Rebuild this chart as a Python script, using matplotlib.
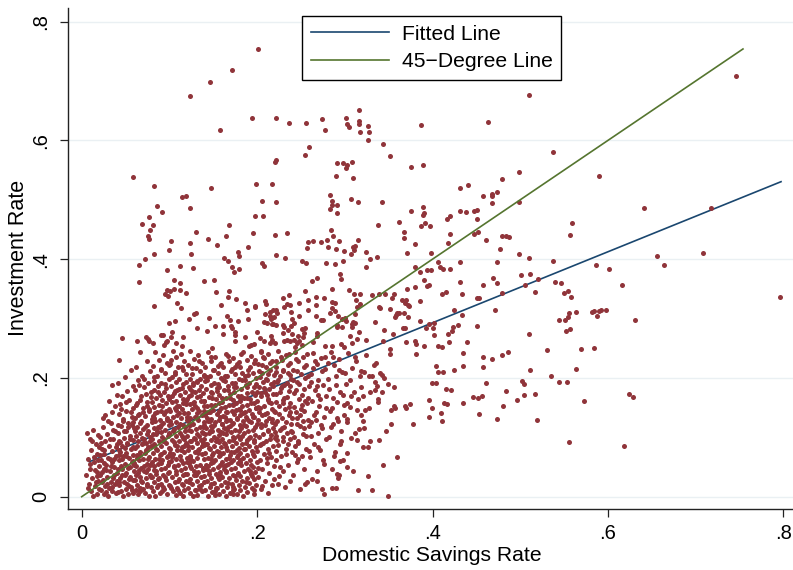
import matplotlib
matplotlib.use("Agg")
import matplotlib.pyplot as plt

plt.rcParams['font.family'] = ['Liberation Sans', 'DejaVu Sans']

## valeurs : (taux d'epargne, taux d'investissement)

# points isoles en haut (invest > .53)
top_pts = [(0.2007,0.7545),(0.1717,0.719),(0.146,0.699),(0.124,0.675),(0.1945,0.638),(0.1577,0.6176),(0.058,0.538),
    (0.2215,0.638),(0.2364,0.629),(0.2554,0.629),(0.274,0.6356),(0.277,0.617),(0.301,0.638),(0.302,0.627),(0.305,0.6226),
    (0.3166,0.651),(0.3166,0.632),(0.3166,0.628),(0.327,0.624),(0.3276,0.615),(0.317,0.614),(0.3268,0.6008),(0.344,0.5935),
    (0.352,0.573),(0.3866,0.6255),(0.463,0.6305),(0.5097,0.6765),(0.2588,0.589),(0.2546,0.576),(0.2212,0.567),(0.2207,0.5637),
    (0.2907,0.5615),(0.298,0.562),(0.302,0.5587),(0.3014,0.554),(0.308,0.5637),(0.2903,0.5396),(0.3097,0.5373),(0.3758,0.5558),
    (0.3895,0.559),(0.4983,0.5474),(0.479,0.5345),(0.7457,0.7085),(0.5374,0.5805),(0.590,0.540)]

# bande du milieu, cote gauche (epargne < .2)
midleft_pts = [(0.0828,0.523),(0.1474,0.520),(0.1144,0.504),(0.1186,0.507),(0.1988,0.526),(0.0859,0.490),(0.0912,0.4795),
    (0.1231,0.4857),(0.0771,0.471),(0.0688,0.4588),(0.081,0.4576),(0.0782,0.449),(0.076,0.4386),(0.0764,0.4345),(0.1018,0.4307),
    (0.1303,0.4463),(0.144,0.434),(0.154,0.424),(0.168,0.458),(0.1645,0.439),(0.1973,0.4733),(0.1896,0.420),(0.1238,0.4273),
    (0.125,0.4088),(0.0992,0.4155),(0.0828,0.4088),(0.0718,0.401),(0.065,0.3897),(0.065,0.361),(0.0969,0.3818),(0.112,0.389),
    (0.1273,0.3857),(0.162,0.4026),(0.167,0.3975),(0.178,0.4127),(0.179,0.405),(0.1717,0.387),(0.1737,0.3785),(0.179,0.383),
    (0.105,0.3655),(0.1125,0.3605),(0.140,0.3628),(0.151,0.3645),(0.097,0.3481),(0.1003,0.347),(0.0946,0.342),(0.098,0.338),
    (0.1052,0.349),(0.112,0.3486),(0.1193,0.3436),(0.1528,0.3447),(0.1676,0.346),(0.167,0.337),(0.1756,0.3325),(0.1866,0.3268),
    (0.1976,0.320),(0.1083,0.326),(0.1132,0.3183),(0.0828,0.321),(0.1585,0.3228),(0.1885,0.314),(0.128,0.3077),(0.1303,0.31),
    (0.122,0.300),(0.1448,0.301),(0.1657,0.3048),(0.1694,0.297),(0.190,0.299),(0.178,0.2965),(0.0992,0.293),(0.1067,0.2965),
    (0.1523,0.2875),(0.1608,0.2875),(0.131,0.284),(0.1706,0.2875),(0.1714,0.2836),(0.1432,0.2796),(0.161,0.274),(0.1745,0.277),
    (0.175,0.272),(0.2002,0.277),(0.046,0.2678),(0.0627,0.2617),(0.0733,0.2695),(0.0764,0.2617),(0.0752,0.265),(0.081,0.259),
    (0.0904,0.2728),(0.093,0.2728),(0.1033,0.277),(0.0958,0.2605),(0.0973,0.2617),(0.0942,0.256),(0.1018,0.2695),(0.1155,0.2695),
    (0.1072,0.2584),(0.1144,0.2543),(0.1748,0.2622),(0.1862,0.2695),(0.191,0.2543),(0.1927,0.256),(0.196,0.257),(0.149,0.251)]

# bande du milieu, centre
midcenter_pts = [(0.2174,0.5267),(0.206,0.4985),(0.2212,0.497),(0.2835,0.508),(0.2858,0.4985),(0.2854,0.4918),(0.2835,0.485),
    (0.2907,0.4918),(0.291,0.4773),(0.3067,0.5009),(0.315,0.4963),(0.342,0.497),(0.2064,0.4723),(0.195,0.4436),(0.2207,0.4403),
    (0.2344,0.4447),(0.2843,0.4487),(0.287,0.439),(0.3378,0.457),(0.3618,0.4627),(0.3755,0.4817),(0.3895,0.4874),(0.3892,0.4744),
    (0.39,0.477),(0.391,0.4605),(0.3869,0.4564),(0.3968,0.4564),(0.431,0.5204),(0.440,0.525),(0.4576,0.5064),(0.4682,0.5098),
    (0.4678,0.507),(0.4732,0.5132),(0.4682,0.4952),(0.4986,0.497),(0.431,0.4817),(0.4379,0.4795),(0.4477,0.4817),(0.4507,0.4829),
    (0.4507,0.4677),(0.4165,0.4672),(0.4196,0.4733),(0.3679,0.4453),(0.3679,0.4362),(0.3804,0.4261),(0.4196,0.442),(0.4173,0.4273),
    (0.4473,0.442),(0.4519,0.4453),(0.461,0.4328),(0.4796,0.4396),(0.4841,0.4391),(0.4876,0.4374),(0.477,0.4172),(0.4983,0.4093),
    (0.5104,0.4026),(0.3983,0.411),(0.3713,0.411),(0.406,0.3958),(0.431,0.3948),(0.4732,0.3948),(0.4082,0.3864),(0.4116,0.3835),
    (0.4196,0.3835),(0.380,0.3864),(0.386,0.379),(0.3937,0.3813),(0.3986,0.3818),(0.39,0.365),(0.3937,0.3549),(0.3964,0.356),
    (0.380,0.3532),(0.3709,0.3503),(0.4313,0.3616),(0.458,0.3566),(0.4687,0.3678),(0.4739,0.3594),(0.5013,0.3734),(0.4789,0.3426),
    (0.4511,0.3352),(0.453,0.3347),(0.4336,0.3409),(0.4158,0.3453),(0.4105,0.3414),(0.3245,0.4121),(0.3287,0.3998),(0.337,0.4032),
    (0.3238,0.3864),(0.307,0.4082),(0.2995,0.4138),(0.3097,0.42),(0.3116,0.4227),(0.3108,0.4155),(0.315,0.4328),(0.2937,0.4312),
    (0.280,0.4323),(0.2808,0.421),(0.290,0.4177),(0.2725,0.429),(0.2641,0.430),(0.2584,0.4295),(0.2569,0.4183),(0.2508,0.3975),
    (0.2561,0.3931),(0.2789,0.3941),(0.2888,0.3919),(0.298,0.3975),(0.2215,0.4071),(0.2318,0.402),(0.206,0.3941),(0.2082,0.389),
    (0.2945,0.3751),(0.2957,0.3661),(0.268,0.3683),(0.263,0.3628),(0.285,0.3503),(0.255,0.347),(0.3048,0.3481),(0.3105,0.3414),
    (0.3173,0.3419),(0.3124,0.3318),(0.331,0.3392),(0.3394,0.3414),(0.3458,0.3414),(0.3561,0.3419),(0.3542,0.3347),(0.3656,0.3308),
    (0.3701,0.3318),(0.372,0.3234),(0.3686,0.3257),(0.3736,0.3217),(0.3854,0.3296),(0.3135,0.32),(0.3177,0.3245),(0.3394,0.3195),
    (0.3398,0.3173),(0.3515,0.3161),(0.358,0.306),(0.3592,0.3099),(0.3618,0.3089),(0.3569,0.3027),(0.3679,0.3089),(0.3717,0.3032),
    (0.3861,0.2959),(0.3344,0.2948),(0.3094,0.2948),(0.3086,0.2909),(0.3113,0.292),(0.3079,0.2863),(0.3002,0.301),(0.301,0.2964),
    (0.312,0.3077),(0.2919,0.3043),(0.2968,0.2998),(0.2835,0.3094),(0.2885,0.3122),(0.2858,0.3173),(0.2892,0.3257),(0.2858,0.3284),
    (0.2672,0.3358),(0.2672,0.3234),(0.2763,0.3352),(0.2729,0.2971),(0.2751,0.2971),(0.2668,0.3043),(0.2584,0.3313),(0.2584,0.3144),
    (0.2478,0.3268),(0.2481,0.3043),(0.2364,0.3397),(0.2295,0.3347),(0.2341,0.3246),(0.2303,0.32),(0.2372,0.3229),(0.1973,0.3207),
    (0.209,0.3296),(0.2098,0.325),(0.209,0.3082),(0.2147,0.3106),(0.2178,0.315),(0.2219,0.3144),(0.2223,0.3089),(0.2193,0.3032),
    (0.215,0.3049),(0.2079,0.2948),(0.211,0.293),(0.2162,0.2993),(0.2185,0.2914),(0.2216,0.2892),(0.2174,0.2903),(0.2292,0.2897),
    (0.231,0.2863),(0.239,0.288),(0.2417,0.293),(0.2402,0.2993),(0.2387,0.3116),(0.2299,0.2752),(0.2349,0.2803),(0.2398,0.274),
    (0.247,0.2712),(0.2509,0.2824),(0.2546,0.2836),(0.2535,0.2762),(0.252,0.2695),(0.203,0.2673),(0.2079,0.2622),(0.2158,0.2701),
    (0.2174,0.2639),(0.2204,0.2589),(0.2147,0.2584),(0.231,0.2628),(0.2337,0.2639),(0.2375,0.2622),(0.2421,0.2639),(0.2459,0.2594),
    (0.2478,0.2617),(0.2509,0.2555),(0.2432,0.2526),(0.2637,0.26),(0.2683,0.2712),(0.2683,0.2762),(0.2774,0.2543),(0.2854,0.2543),
    (0.2957,0.2577),(0.2987,0.2516),(0.3059,0.2701),(0.3082,0.2589),(0.3143,0.2651),(0.3162,0.2779),(0.3238,0.2644),(0.2915,0.2887),
    (0.2968,0.2853),(0.2907,0.2863),(0.345,0.2813),(0.3553,0.2735),(0.3432,0.2617),(0.366,0.2841),(0.369,0.2841),(0.3698,0.26),
    (0.3797,0.2617),(0.3815,0.2577),(0.3903,0.2543),(0.4014,0.2728),(0.4017,0.292),(0.396,0.2914),(0.393,0.2847),(0.4002,0.2841),
    (0.406,0.2538),(0.4105,0.2526),(0.4185,0.2605),(0.4177,0.274),(0.4219,0.2796),(0.423,0.2858),(0.4291,0.2887),(0.4245,0.3144),
    (0.434,0.306),(0.4393,0.26),(0.4504,0.2875),(0.4713,0.3144),(0.5097,0.274),(0.5108,0.3746)]

# cote droit (epargne > .5)
right_pts = [(0.6415,0.4857),(0.7176,0.4862),(0.5587,0.4615),(0.5564,0.4413),(0.5374,0.3975),(0.6556,0.4054),(0.7081,0.411),
    (0.586,0.3907),(0.6012,0.3835),(0.6636,0.3902),(0.5203,0.3667),(0.5058,0.3566),(0.540,0.3611),(0.5465,0.3604),(0.5169,0.3447),
    (0.5545,0.3464),(0.55,0.343),(0.5583,0.3368),(0.6157,0.356),(0.7966,0.3368),(0.564,0.3116),(0.556,0.3089),(0.5545,0.3032),
    (0.5446,0.2981),(0.5507,0.2971),(0.5815,0.3106),(0.5841,0.3122),(0.5876,0.3049),(0.590,0.3128),(0.5925,0.314),(0.5978,0.3144),
    (0.6312,0.2981),(0.5526,0.279),(0.5568,0.2824),(0.530,0.247),(0.569,0.248),(0.584,0.250),
    (0.5115,0.2139),(0.5355,0.2038),(0.5633,0.2151),(0.5024,0.1944),(0.5047,0.1903),(0.5446,0.1927),(0.5537,0.1932),
    (0.5043,0.1713),(0.5172,0.173),(0.5728,0.1617),(0.6237,0.173),(0.6283,0.1679),(0.5192,0.1292),(0.556,0.0926),(0.6184,0.0854)]

# bas, epargne entre .31 et .5
lowmid_pts = [(0.3815,0.2398),(0.352,0.2482),(0.352,0.2403),(0.4348,0.2425),(0.4576,0.2347),(0.4682,0.2324),(0.4796,0.2386),
    (0.4857,0.2432),(0.4043,0.2196),(0.4066,0.21),(0.412,0.21),(0.4242,0.2129),(0.4344,0.2201),(0.4576,0.2179),(0.3991,0.1915),
    (0.4043,0.191),(0.4158,0.1819),(0.4214,0.1802),(0.461,0.191),(0.4841,0.1785),(0.3957,0.1634),(0.4131,0.1578),(0.4162,0.1566),
    (0.4351,0.1583),(0.4465,0.1674),(0.4515,0.1657),(0.4568,0.1701),(0.496,0.1624),(0.3991,0.1494),(0.4094,0.1415),(0.3957,0.1337),
    (0.4105,0.127),(0.4527,0.1398),(0.4739,0.1314),(0.4804,0.1533),(0.3561,0.1533),(0.353,0.1465),(0.3576,0.1489),(0.3686,0.1528),
    (0.3698,0.1499),(0.3747,0.1566),(0.3774,0.1224),(0.353,0.1219),(0.347,0.1101),(0.3595,0.0674),(0.3432,0.0534),(0.3493,0.0017),
    (0.3307,0.0118),(0.3147,0.0108),(0.3261,0.0354),(0.339,0.096),(0.3287,0.0938),(0.3268,0.0832),(0.3211,0.0837),(0.3135,0.096),
    (0.312,0.107),(0.3166,0.114),(0.3223,0.1152),(0.3211,0.127),(0.3234,0.146),(0.328,0.15),(0.342,0.2055),(0.3398,0.2078),
    (0.3314,0.2038),(0.3565,0.1853),(0.3424,0.1758),(0.335,0.18),(0.338,0.165),(0.345,0.20),(0.349,0.19),
    (0.268,0.026),(0.2737,0.013),(0.2767,0.0045),(0.285,0.015),(0.29,0.0152),(0.2907,0.0377),(0.2934,0.0365),(0.2945,0.06),(0.302,0.05)]

# nuage dense (invest < .25), par tranche d'epargne
core_a = [(.006,.108),(.013,.113),(.019,.104),(.009,.097),(.016,.088),(.011,.079),(.018,.072),(.007,.064),(.014,.058),(.020,.052),
    (.010,.047),(.017,.041),(.005,.036),(.012,.031),(.019,.027),(.008,.022),(.015,.018),(.020,.013),(.011,.009),(.017,.004),
    (.013,.002),(.007,.014),(.018,.035),(.014,.067),(.009,.055),(.020,.084),(.016,.024),(.012,.093),(.019,.061),(.015,.045)]
core_b = [(.024,.118),(.033,.124),(.038,.111),(.029,.106),(.021,.101),(.036,.098),(.027,.093),(.040,.089),(.031,.085),(.023,.080),
    (.035,.077),(.026,.072),(.039,.069),(.030,.066),(.022,.061),(.034,.058),(.028,.054),(.037,.050),(.025,.047),(.032,.043),
    (.040,.040),(.021,.037),(.029,.034),(.036,.031),(.024,.028),(.033,.025),(.038,.021),(.027,.018),(.031,.015),(.022,.012),
    (.035,.009),(.039,.006),(.026,.004),(.030,.001),(.034,.017),(.023,.024),(.037,.036),(.028,.045),(.032,.063),(.025,.079),
    (.039,.083),(.021,.070),(.036,.113),(.030,.128),(.027,.137),(.034,.143),(.038,.152),(.024,.133),(.031,.161),(.040,.171),
    (.035,.188),(.028,.008),(.033,.052),(.022,.090),(.037,.064),(.026,.057),(.029,.021),(.040,.027),(.023,.041),(.032,.097)]
core_c = [(.043,.231),(.056,.214),(.049,.201),(.041,.192),(.058,.186),(.052,.178),(.046,.169),(.054,.163),(.044,.156),(.059,.149),
    (.050,.145),(.042,.139),(.057,.134),(.047,.128),(.053,.124),(.045,.119),(.060,.115),(.051,.111),(.041,.107),(.055,.103),
    (.048,.099),(.058,.096),(.044,.092),(.052,.088),(.046,.085),(.056,.081),(.042,.078),(.050,.074),(.059,.071),(.047,.068),
    (.054,.065),(.043,.061),(.057,.058),(.049,.055),(.045,.052),(.053,.049),(.041,.046),(.060,.043),(.051,.040),(.046,.037),
    (.055,.034),(.044,.031),(.058,.028),(.048,.025),(.052,.022),(.042,.019),(.056,.016),(.050,.013),(.045,.010),(.059,.007),
    (.053,.004),(.047,.002),(.041,.008),(.057,.011),(.043,.024),(.054,.029),(.049,.036),(.060,.054),(.046,.063),(.051,.069),
    (.044,.076),(.058,.083),(.042,.094),(.055,.098),(.048,.110),(.053,.117),(.059,.126),(.047,.131),(.056,.142),(.045,.147),
    (.050,.159),(.057,.120),(.052,.090),(.046,.047),(.054,.018),(.049,.082),(.043,.070),(.058,.060),(.041,.121),(.055,.050)]
core_d = [(.066,.243),(.074,.228),(.062,.219),(.078,.211),(.069,.204),(.064,.196),(.076,.191),(.071,.185),(.061,.179),(.073,.173),
    (.079,.168),(.067,.163),(.063,.158),(.075,.153),(.070,.149),(.077,.144),(.065,.140),(.072,.136),(.061,.132),(.068,.128),
    (.080,.125),(.074,.121),(.063,.117),(.070,.114),(.076,.110),(.066,.107),(.062,.103),(.078,.100),(.071,.097),(.064,.094),
    (.073,.091),(.069,.088),(.079,.085),(.061,.082),(.075,.079),(.067,.076),(.072,.073),(.063,.070),(.077,.067),(.070,.064),
    (.065,.061),(.080,.058),(.074,.055),(.062,.052),(.068,.049),(.076,.046),(.071,.043),(.064,.040),(.078,.037),(.066,.034),
    (.073,.031),(.061,.028),(.069,.025),(.075,.022),(.063,.019),(.079,.016),(.070,.013),(.067,.010),(.072,.007),(.064,.004),
    (.077,.002),(.062,.011),(.074,.018),(.068,.027),(.079,.033),(.065,.045),(.071,.051),(.060,.057),(.076,.063),(.066,.071),
    (.073,.078),(.063,.086),(.078,.093),(.069,.099),(.075,.105),(.061,.111),(.072,.118),(.067,.124),(.080,.131),(.064,.137),
    (.070,.142),(.077,.148),(.062,.155),(.074,.160),(.068,.170),(.079,.176),(.065,.188),(.071,.198),(.076,.083),(.063,.066),
    (.073,.041),(.067,.014),(.078,.054),(.070,.090),(.062,.036)]
core_e = [(.084,.244),(.093,.238),(.088,.231),(.097,.226),(.081,.220),(.090,.215),(.095,.209),(.086,.204),(.099,.199),(.083,.195),
    (.091,.191),(.087,.187),(.096,.183),(.082,.179),(.094,.176),(.089,.172),(.098,.169),(.085,.166),(.092,.163),(.080,.160),
    (.096,.157),(.088,.154),(.083,.151),(.099,.148),(.091,.145),(.086,.142),(.094,.139),(.081,.136),(.097,.133),(.089,.130),
    (.084,.127),(.093,.124),(.100,.121),(.087,.118),(.082,.115),(.095,.112),(.090,.109),(.085,.106),(.098,.103),(.092,.100),
    (.080,.097),(.088,.094),(.096,.091),(.083,.088),(.091,.085),(.099,.082),(.086,.079),(.094,.076),(.081,.073),(.089,.070),
    (.097,.067),(.084,.064),(.092,.061),(.100,.058),(.087,.055),(.082,.052),(.095,.049),(.090,.046),(.085,.043),(.098,.040),
    (.093,.037),(.080,.034),(.088,.031),(.096,.028),(.083,.025),(.091,.022),(.099,.019),(.086,.016),(.094,.013),(.081,.010),
    (.089,.007),(.097,.004),(.084,.002),(.092,.009),(.087,.020),(.095,.033),(.082,.045),(.090,.057),(.098,.069),(.085,.081),
    (.093,.093),(.081,.105),(.089,.117),(.097,.129),(.084,.141),(.092,.153),(.100,.165),(.087,.177),(.095,.189),(.083,.201),
    (.091,.213),(.099,.222),(.086,.111),(.094,.098),(.082,.087),(.090,.072),(.098,.053),(.085,.038),(.093,.016),(.088,.063),
    (.096,.144),(.083,.132),(.091,.121),(.099,.108),(.087,.029)]
core_f = [(.104,.246),(.113,.240),(.108,.235),(.117,.229),(.101,.224),(.110,.219),(.115,.214),(.106,.210),(.119,.206),(.103,.202),
    (.111,.198),(.107,.194),(.116,.190),(.102,.187),(.114,.183),(.109,.180),(.118,.177),(.105,.174),(.112,.171),(.100,.168),
    (.116,.165),(.108,.162),(.103,.159),(.119,.156),(.111,.153),(.106,.150),(.114,.147),(.101,.144),(.117,.141),(.109,.138),
    (.104,.135),(.113,.132),(.120,.129),(.107,.126),(.102,.123),(.115,.120),(.110,.117),(.105,.114),(.118,.111),(.112,.108),
    (.100,.105),(.108,.102),(.116,.099),(.103,.096),(.111,.093),(.119,.090),(.106,.087),(.114,.084),(.101,.081),(.109,.078),
    (.117,.075),(.104,.072),(.112,.069),(.120,.066),(.107,.063),(.102,.060),(.115,.057),(.110,.054),(.105,.051),(.118,.048),
    (.113,.045),(.100,.042),(.108,.039),(.116,.036),(.103,.033),(.111,.030),(.119,.027),(.106,.024),(.114,.021),(.101,.018),
    (.109,.015),(.117,.012),(.104,.009),(.112,.006),(.107,.003),(.115,.001),(.102,.014),(.110,.026),(.118,.038),(.105,.050),
    (.113,.062),(.101,.074),(.109,.086),(.117,.098),(.104,.110),(.112,.122),(.120,.134),(.107,.146),(.115,.158),(.103,.170),
    (.111,.182),(.119,.194),(.106,.206),(.114,.218),(.102,.230),(.118,.118),(.105,.092),(.113,.079),(.100,.058),(.108,.044),
    (.116,.019),(.103,.067),(.111,.141),(.119,.161),(.106,.178),(.114,.103),(.101,.128),(.109,.152),(.117,.085),(.110,.011)]
core_g = [(.124,.245),(.133,.238),(.128,.232),(.137,.226),(.121,.221),(.130,.216),(.135,.211),(.126,.207),(.139,.203),(.123,.199),
    (.131,.195),(.127,.191),(.136,.187),(.122,.184),(.134,.180),(.129,.177),(.138,.174),(.125,.171),(.132,.168),(.120,.165),
    (.136,.162),(.128,.159),(.123,.156),(.139,.153),(.131,.150),(.126,.147),(.134,.144),(.121,.141),(.137,.138),(.129,.135),
    (.124,.132),(.133,.129),(.140,.126),(.127,.123),(.122,.120),(.135,.117),(.130,.114),(.125,.111),(.138,.108),(.132,.105),
    (.120,.102),(.128,.099),(.136,.096),(.123,.093),(.131,.090),(.139,.087),(.126,.084),(.134,.081),(.121,.078),(.129,.075),
    (.137,.072),(.124,.069),(.132,.066),(.140,.063),(.127,.060),(.122,.057),(.135,.054),(.130,.051),(.125,.048),(.138,.045),
    (.133,.042),(.120,.039),(.128,.036),(.136,.033),(.123,.030),(.131,.027),(.139,.024),(.126,.021),(.134,.018),(.121,.015),
    (.129,.012),(.137,.009),(.124,.006),(.132,.003),(.127,.001),(.135,.013),(.122,.025),(.130,.037),(.138,.049),(.125,.061),
    (.133,.073),(.121,.085),(.129,.097),(.137,.109),(.124,.121),(.132,.133),(.140,.145),(.127,.157),(.135,.169),(.123,.181),
    (.131,.193),(.139,.205),(.126,.217),(.134,.229),(.122,.112),(.138,.118),(.125,.094),(.133,.079),(.120,.058),(.128,.044),
    (.136,.019),(.123,.067),(.131,.141),(.139,.161),(.126,.178),(.134,.103),(.121,.128),(.129,.152),(.137,.085),(.130,.011),
    (.127,.188),(.135,.199),(.122,.170),(.138,.090),(.124,.052)]
core_h = [(.144,.243),(.152,.236),(.147,.229),(.158,.224),(.141,.219),(.150,.213),(.155,.208),(.146,.204),(.159,.200),(.143,.196),
    (.151,.192),(.148,.188),(.156,.185),(.142,.181),(.154,.178),(.149,.174),(.157,.171),(.145,.168),(.153,.164),(.140,.161),
    (.156,.158),(.147,.155),(.143,.152),(.159,.149),(.150,.146),(.146,.143),(.154,.140),(.141,.137),(.158,.134),(.148,.131),
    (.144,.128),(.152,.125),(.160,.122),(.147,.119),(.142,.116),(.155,.113),(.149,.110),(.145,.107),(.157,.104),(.151,.101),
    (.140,.098),(.148,.095),(.156,.092),(.143,.089),(.151,.086),(.159,.083),(.146,.080),(.154,.077),(.141,.074),(.149,.071),
    (.157,.068),(.144,.065),(.152,.062),(.160,.059),(.147,.056),(.142,.053),(.155,.050),(.150,.047),(.145,.044),(.158,.041),
    (.153,.038),(.140,.035),(.148,.032),(.156,.029),(.143,.026),(.151,.023),(.159,.020),(.146,.017),(.154,.014),(.141,.011),
    (.149,.008),(.157,.005),(.144,.002),(.152,.010),(.147,.021),(.155,.034),(.142,.046),(.150,.058),(.158,.070),(.145,.082),
    (.153,.094),(.141,.106),(.149,.118),(.157,.130),(.144,.142),(.152,.154),(.160,.166),(.147,.177),(.155,.190),(.143,.202),
    (.151,.214),(.159,.226),(.146,.111),(.154,.097),(.142,.088),(.150,.073),(.158,.054),(.145,.039),(.153,.015),(.148,.063),
    (.156,.145),(.143,.133),(.151,.121),(.159,.109),(.146,.128),(.154,.183),(.141,.195),(.149,.167),(.157,.076),(.144,.051),
    (.152,.003),(.140,.121),(.158,.037),(.147,.235),(.155,.220)]
core_i = [(.164,.241),(.173,.234),(.168,.228),(.177,.223),(.161,.218),(.170,.212),(.175,.207),(.166,.203),(.179,.199),(.163,.195),
    (.171,.191),(.167,.187),(.176,.184),(.162,.180),(.174,.177),(.169,.173),(.178,.170),(.165,.167),(.172,.163),(.160,.160),
    (.176,.157),(.168,.154),(.163,.151),(.179,.148),(.171,.145),(.166,.142),(.174,.139),(.161,.136),(.177,.133),(.169,.130),
    (.164,.127),(.173,.124),(.180,.121),(.167,.118),(.162,.115),(.175,.112),(.170,.109),(.165,.106),(.178,.103),(.172,.100),
    (.160,.097),(.168,.094),(.176,.091),(.163,.088),(.171,.085),(.179,.082),(.166,.079),(.174,.076),(.161,.073),(.169,.070),
    (.177,.067),(.164,.064),(.172,.061),(.180,.058),(.167,.055),(.162,.052),(.175,.049),(.170,.046),(.165,.043),(.178,.040),
    (.173,.037),(.160,.034),(.168,.031),(.176,.028),(.163,.025),(.171,.022),(.179,.019),(.166,.016),(.174,.013),(.161,.010),
    (.169,.007),(.177,.004),(.164,.001),(.172,.012),(.167,.023),(.175,.035),(.162,.047),(.170,.059),(.178,.071),(.165,.083),
    (.173,.095),(.161,.107),(.169,.119),(.177,.131),(.164,.143),(.172,.155),(.180,.167),(.167,.179),(.175,.191),(.163,.203),
    (.171,.215),(.179,.227),(.166,.113),(.174,.099),(.162,.090),(.170,.075),(.178,.056),(.165,.041),(.173,.017),(.168,.066),
    (.176,.146),(.163,.134),(.171,.122),(.179,.110),(.166,.129),(.174,.184),(.161,.196),(.169,.166),(.177,.078),(.164,.053),
    (.172,.005),(.160,.123),(.178,.038),(.167,.237),(.175,.218)]
core_j = [(.184,.244),(.193,.237),(.188,.230),(.197,.225),(.181,.219),(.190,.214),(.195,.209),(.186,.204),(.199,.200),(.183,.196),
    (.191,.192),(.187,.188),(.196,.184),(.182,.181),(.194,.177),(.189,.174),(.198,.171),(.185,.167),(.192,.164),(.180,.161),
    (.196,.158),(.188,.155),(.183,.152),(.199,.149),(.191,.146),(.186,.143),(.194,.140),(.181,.137),(.197,.134),(.189,.131),
    (.184,.128),(.193,.125),(.200,.122),(.187,.119),(.182,.116),(.195,.113),(.190,.110),(.185,.107),(.198,.104),(.192,.101),
    (.180,.098),(.188,.095),(.196,.092),(.183,.089),(.191,.086),(.199,.083),(.186,.080),(.194,.077),(.181,.074),(.189,.071),
    (.197,.068),(.184,.065),(.192,.062),(.200,.059),(.187,.056),(.182,.053),(.195,.050),(.190,.047),(.185,.044),(.198,.041),
    (.193,.038),(.180,.035),(.188,.032),(.196,.029),(.183,.026),(.191,.023),(.199,.020),(.186,.017),(.194,.014),(.181,.011),
    (.189,.008),(.197,.005),(.184,.002),(.192,.044),(.187,.090),(.195,.135),(.182,.170),(.190,.205),(.198,.230),(.185,.120),
    (.193,.157),(.181,.062),(.189,.185),(.197,.096),(.184,.141),(.192,.218),(.200,.176),(.187,.024),(.195,.072),(.183,.103),
    (.191,.128),(.199,.150),(.186,.197),(.194,.035),(.182,.240),(.198,.118),(.185,.081),(.193,.054),(.180,.146),(.188,.166),
    (.196,.012),(.183,.209),(.191,.099),(.199,.190),(.187,.135)]
core_k = [(.204,.246),(.213,.240),(.208,.234),(.217,.229),(.201,.224),(.210,.219),(.215,.214),(.206,.209),(.219,.205),(.203,.201),
    (.211,.197),(.207,.193),(.216,.189),(.202,.185),(.214,.181),(.209,.177),(.218,.173),(.205,.169),(.212,.165),(.200,.161),
    (.216,.157),(.208,.153),(.203,.149),(.219,.145),(.211,.141),(.206,.137),(.214,.133),(.201,.129),(.217,.125),(.209,.121),
    (.204,.117),(.213,.113),(.220,.109),(.207,.105),(.202,.101),(.215,.097),(.210,.093),(.205,.089),(.218,.085),(.212,.081),
    (.200,.077),(.208,.072),(.216,.067),(.203,.062),(.211,.057),(.219,.052),(.206,.046),(.214,.040),(.201,.034),(.209,.027),
    (.217,.020),(.204,.013),(.212,.006),(.207,.236),(.215,.226),(.202,.212),(.210,.199),(.218,.187),(.205,.175),(.213,.163),
    (.201,.151),(.209,.139),(.217,.131),(.204,.123),(.212,.111),(.220,.099),(.207,.091),(.214,.074),(.203,.087),(.211,.171),
    (.219,.193),(.206,.221),(.214,.159),(.202,.143),(.210,.128),(.218,.116),(.205,.244),(.213,.206),(.208,.183),(.216,.104),
    (.201,.049),(.219,.030),(.206,.018),(.211,.066),(.217,.147)]
core_l = [(.224,.245),(.233,.238),(.228,.231),(.237,.225),(.221,.219),(.230,.214),(.235,.208),(.226,.203),(.239,.198),(.223,.193),
    (.231,.188),(.227,.183),(.236,.178),(.222,.173),(.234,.168),(.229,.163),(.238,.158),(.225,.153),(.232,.148),(.220,.143),
    (.236,.138),(.228,.133),(.223,.128),(.239,.123),(.231,.118),(.226,.113),(.234,.108),(.221,.103),(.237,.098),(.229,.093),
    (.224,.087),(.233,.081),(.240,.075),(.227,.068),(.222,.061),(.235,.053),(.230,.044),(.225,.035),(.238,.026),(.232,.016),
    (.227,.236),(.221,.228),(.235,.221),(.230,.211),(.224,.196),(.238,.186),(.222,.160),(.236,.151),(.225,.140),(.233,.126),
    (.228,.116),(.239,.111),(.223,.095),(.231,.166),(.237,.205),(.226,.176),(.234,.191),(.220,.122),(.229,.100),(.238,.143),
    (.233,.072),(.221,.077),(.226,.050),(.235,.089),(.224,.022),(.240,.133),(.230,.157),(.222,.210),(.236,.241),(.228,.186)]
core_m = [(.243,.244),(.252,.236),(.247,.228),(.256,.221),(.241,.214),(.250,.207),(.255,.200),(.246,.193),(.259,.186),(.244,.179),
    (.251,.172),(.248,.165),(.257,.158),(.242,.151),(.254,.144),(.249,.137),(.258,.130),(.245,.123),(.253,.116),(.240,.109),
    (.256,.102),(.247,.094),(.243,.086),(.259,.077),(.251,.068),(.246,.058),(.254,.047),(.241,.036),(.257,.024),(.249,.013),
    (.244,.232),(.253,.218),(.258,.204),(.248,.189),(.242,.175),(.255,.161),(.250,.147),(.245,.133),(.259,.119),(.252,.105),
    (.247,.091),(.256,.080),(.243,.071),(.251,.155),(.241,.196),(.257,.240),(.246,.212),(.254,.182),(.249,.119),(.244,.142),
    (.258,.166),(.252,.127),(.247,.063),(.255,.022),(.242,.100)]
core_n = [(.264,.242),(.273,.233),(.268,.224),(.277,.215),(.261,.206),(.270,.197),(.275,.188),(.266,.179),(.279,.170),(.263,.161),
    (.271,.152),(.267,.143),(.276,.134),(.262,.125),(.274,.116),(.269,.107),(.278,.098),(.265,.089),(.272,.078),(.260,.067),
    (.276,.055),(.268,.043),(.263,.030),(.266,.229),(.274,.211),(.262,.194),(.270,.172),(.278,.149),
    (.265,.137),(.273,.121),(.261,.102),(.269,.083),(.277,.236),(.264,.217),(.272,.164),(.267,.129),(.275,.061),(.268,.186)]
core_o = [(.284,.243),(.293,.232),(.288,.221),(.297,.210),(.281,.199),(.290,.188),(.295,.177),(.286,.166),(.299,.155),(.283,.144),
    (.291,.133),(.287,.122),(.296,.111),(.282,.100),(.294,.088),(.289,.075),(.298,.061),(.285,.046),(.292,.031),
    (.286,.236),(.293,.214),(.282,.181),(.291,.159),(.299,.137),(.284,.118),(.296,.094),(.288,.069),
    (.281,.225),(.290,.203),(.298,.172),(.285,.150),(.292,.127)]
core_p = [(.304,.242),(.313,.229),(.308,.216),(.317,.203),(.301,.190),(.310,.177),(.315,.164),(.306,.151),(.319,.138),(.303,.125),
    (.307,.099),(.302,.073),(.309,.043),(.312,.236),(.300,.208),
    (.318,.184),(.307,.170),(.314,.146),(.303,.131),(.319,.211),(.306,.197),(.302,.158)]
core_q = [(.324,.238),(.333,.221),(.328,.204),(.337,.187),(.321,.170),(.336,.226),(.322,.210),(.334,.193),(.329,.176),(.338,.159)]

# droites
fit_x = [0.0087, 0.7974]
fit_y = [0.0589, 0.5305]
deg45_x = [0.0, 0.754]
deg45_y = [0.0, 0.754]

ticks = [0, .2, .4, .6, .8]
tick_labels = ['0', '.2', '.4', '.6', '.8']

pts = (top_pts + midleft_pts + midcenter_pts + right_pts + lowmid_pts
       + core_a + core_b + core_c + core_d + core_e + core_f + core_g + core_h + core_i
       + core_j + core_k + core_l + core_m + core_n + core_o + core_p + core_q)
sav = [p[0] for p in pts]
inv = [p[1] for p in pts]

fig = plt.figure(figsize=(7.93, 5.70), dpi=100)
ax = fig.add_axes([68/793, 61/570, 729/793, 501/570])

ax.scatter(sav, inv, s=13, c='#90343a', linewidths=0, zorder=3)
l1, = ax.plot(fit_x, fit_y, color='#1a476f', lw=1.2, zorder=2)
l2, = ax.plot(deg45_x, deg45_y, color='#55752f', lw=1.2, zorder=4)

ax.set_xlim(-0.0156, 0.8156)
ax.set_ylim(-0.0207, 0.823)
ax.set_xticks(ticks)
ax.set_xticklabels(tick_labels)
ax.set_yticks(ticks)
ax.set_yticklabels(tick_labels, rotation=90, va='center')
ax.tick_params(direction='out', length=6, width=0.9, labelsize=14.5, color='#222222')
ax.tick_params(axis='y', pad=7)
ax.tick_params(axis='x', pad=5)

ax.yaxis.grid(True, color='#eaf0f3', lw=1.0)
ax.set_axisbelow(True)
for s in ['top', 'right']:
    ax.spines[s].set_visible(False)
for s in ['left', 'bottom']:
    ax.spines[s].set_linewidth(1.0)
    ax.spines[s].set_color('#222222')

ax.set_xlabel('Domestic Savings Rate', fontsize=15.2, va='center')
ax.xaxis.set_label_coords(0.499, -0.093)
ax.set_ylabel('Investment Rate', fontsize=15.5, va='center')
ax.yaxis.set_label_coords(-0.068, 0.501)

leg = ax.legend([l1, l2], ['Fitted Line', '45\u2212Degree Line'], loc='upper left',
                bbox_to_anchor=(302/793, 1 - 16/570), bbox_transform=fig.transFigure,
                fontsize=15.2, handlelength=3.7, handletextpad=0.6, borderpad=0.42,
                labelspacing=0.4, borderaxespad=0, fancybox=False, framealpha=1)
leg.get_frame().set_edgecolor('black')
leg.get_frame().set_linewidth(1.0)

plt.savefig('out.png', dpi=100)
